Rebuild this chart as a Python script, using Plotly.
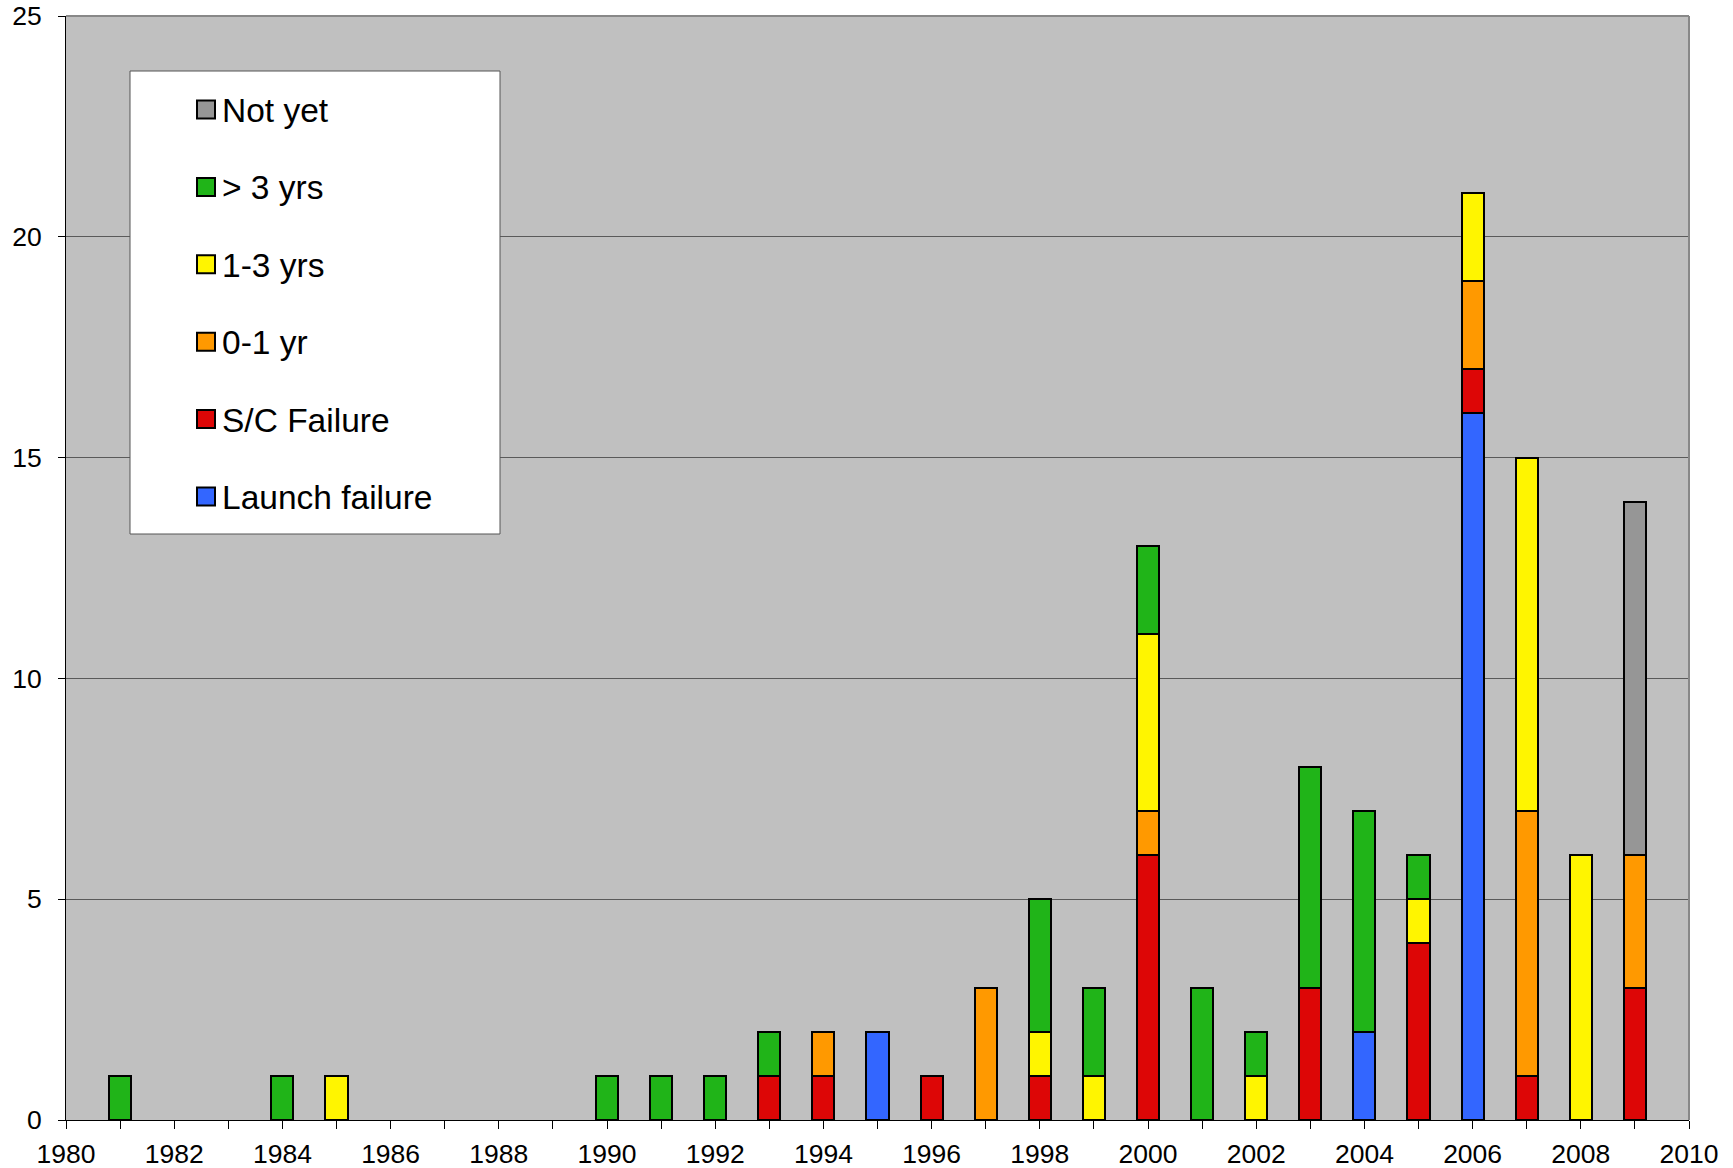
import plotly.graph_objects as go

# Launch years and counts per outcome category (stacked bottom to top)
years = [1981, 1984, 1985, 1990, 1991, 1992, 1993, 1994, 1995, 1996, 1997, 1998,
         1999, 2000, 2001, 2002, 2003, 2004, 2005, 2006, 2007, 2008, 2009]

launch_failure = [0, 0, 0, 0, 0, 0, 0, 0, 2, 0, 0, 0, 0, 0, 0, 0, 0, 2, 0, 16, 0, 0, 0]
sc_failure     = [0, 0, 0, 0, 0, 0, 1, 1, 0, 1, 0, 1, 0, 6, 0, 0, 3, 0, 4, 1, 1, 0, 3]
zero_one_yr    = [0, 0, 0, 0, 0, 0, 0, 1, 0, 0, 3, 0, 0, 1, 0, 0, 0, 0, 0, 2, 6, 0, 3]
one_three_yrs  = [0, 0, 1, 0, 0, 0, 0, 0, 0, 0, 0, 1, 1, 4, 0, 1, 0, 0, 1, 2, 8, 6, 0]
over_three_yrs = [1, 1, 0, 1, 1, 1, 1, 0, 0, 0, 0, 3, 2, 2, 3, 1, 5, 5, 1, 0, 0, 0, 0]
not_yet        = [0, 0, 0, 0, 0, 0, 0, 0, 0, 0, 0, 0, 0, 0, 0, 0, 0, 0, 0, 0, 0, 0, 8]

series_names = ["Launch failure", "S/C Failure", "0-1 yr", "1-3 yrs", "> 3 yrs", "Not yet"]
series_values = [launch_failure, sc_failure, zero_one_yr, one_three_yrs, over_three_yrs, not_yet]
series_colors = ["#3366FF", "#DD0606", "#FF9900", "#FFF500", "#20B418", "#969696"]

x_tick_labels = [str(y) for y in range(1980, 2011, 2)]
y_tick_values = [0, 5, 10, 15, 20, 25]

W, H = 1733, 1168
M_L, M_R, M_T, M_B = 66, 44, 16, 48
FONT = "Liberation Sans, Arial, sans-serif"

fig = go.Figure()
for name, vals, col in zip(series_names, series_values, series_colors):
    fig.add_trace(go.Bar(
        x=years,
        y=[v if v else None for v in vals],
        name=name,
        width=0.41,
        marker=dict(color=col, line=dict(color="black", width=2)),
        showlegend=False,
    ))

# Pixel -> paper helpers for the legend box
pw = W - M_L - M_R
ph = H - M_T - M_B


def px_x(px):
    return (px - M_L) / pw


def px_y(py):
    return 1 - (py - M_T) / ph


shapes = []
annotations = []

# Legend frame
shapes.append(dict(type="rect", xref="paper", yref="paper",
                   x0=px_x(130), x1=px_x(500), y0=px_y(534), y1=px_y(71),
                   fillcolor="white", line=dict(color="#555555", width=1), layer="above"))

row0, row_gap = 109.5, 77.4
for i, (name, col) in enumerate(zip(series_names[::-1], series_colors[::-1])):
    cy = row0 + i * row_gap
    shapes.append(dict(type="rect", xref="paper", yref="paper",
                       x0=px_x(197), x1=px_x(215), y0=px_y(cy + 9), y1=px_y(cy - 9),
                       fillcolor=col, line=dict(color="black", width=2), layer="above"))
    annotations.append(dict(xref="paper", yref="paper", x=px_x(220), y=px_y(cy + 1),
                            xanchor="left", yanchor="middle", text=name, showarrow=False,
                            font=dict(family=FONT, size=33.5, color="black")))

# Lighter top and right frame of the plot area
shapes.append(dict(type="line", xref="paper", yref="paper", x0=0, x1=1, y0=1, y1=1,
                   line=dict(color="#888888", width=2), layer="above"))
shapes.append(dict(type="line", xref="paper", yref="paper", x0=1, x1=1, y0=0, y1=1,
                   line=dict(color="#888888", width=2), layer="above"))

fig.update_layout(
    width=W, height=H,
    margin=dict(l=M_L, r=M_R, t=M_T, b=M_B, pad=0, autoexpand=False),
    barmode="stack",
    paper_bgcolor="white",
    plot_bgcolor="#C0C0C0",
    font=dict(family=FONT, size=26, color="black"),
    shapes=shapes,
    annotations=annotations,
    showlegend=False,
)

fig.update_xaxes(
    range=[1980, 2010],
    automargin=False,
    tickmode="array",
    tickvals=[int(t) for t in x_tick_labels],
    ticktext=x_tick_labels,
    ticks="outside", ticklen=8, tickwidth=1, tickcolor="black",
    minor=dict(dtick=1, tick0=1980, ticks="outside", ticklen=8, tickcolor="black", showgrid=False),
    showline=True, linecolor="black", linewidth=1,
    showgrid=False, zeroline=False,
    tickfont=dict(family=FONT, size=26.5, color="black"),
    ticklabelstandoff=2,
)

fig.update_yaxes(
    range=[0, 25],
    automargin=False,
    tickmode="array",
    tickvals=y_tick_values,
    ticktext=[str(v) for v in y_tick_values],
    ticks="outside", ticklen=7, tickwidth=1, tickcolor="black",
    showline=True, linecolor="black", linewidth=1,
    showgrid=True, gridcolor="#5A5A5A", gridwidth=1,
    zeroline=False,
    tickfont=dict(family=FONT, size=26.5, color="black"),
    ticklabelstandoff=11,
)

fig.write_html("out.html")
